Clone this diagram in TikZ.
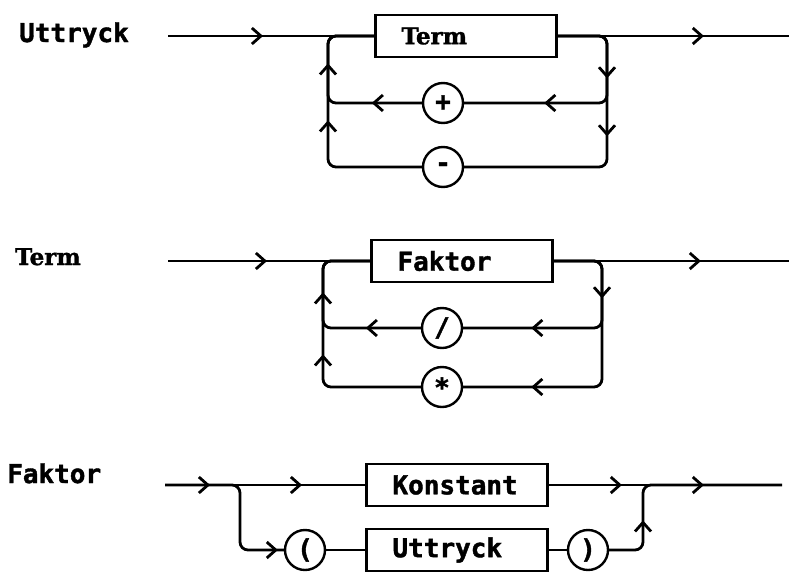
\documentclass[tikz,border=0pt]{standalone}
\usepackage{fontspec}
\setmonofont{DejaVu Sans Mono}[BoldFeatures={FakeBold=1.5}]
\newfontfamily\slabfont{DejaVu Serif}[BoldFeatures={FakeBold=1.5}]
\usetikzlibrary{arrows.meta, decorations.markings}

\begin{document}
\begin{tikzpicture}[x=1pt, y=-1pt,
    flow/.style={line width=2.8pt, line join=round},
    elbow/.style={flow, rounded corners=8pt},
    box/.style={rectangle, draw, line width=2.8pt, fill=white, minimum width=181pt, minimum height=42pt, inner xsep=26pt, text width=129pt, align=left, font=\ttfamily\bfseries\fontsize{26}{30}\selectfont},
    tok/.style={circle, draw, line width=2.4pt, fill=white, minimum size=40pt, inner sep=0pt, font=\ttfamily\bfseries\fontsize{26}{30}\selectfont},
    lbl/.style={anchor=base west, inner sep=0pt, font=\ttfamily\bfseries\fontsize{26}{30}\selectfont},
    chev/.style={postaction={decorate, decoration={markings, mark=at position #1 with {\arrow{Straight Barb[length=9pt, width=16pt]}}}}},
    chevs/.style 2 args={postaction={decorate, decoration={markings, mark=at position #1 with {\arrow{Straight Barb[length=9pt, width=16pt]}}, mark=at position #2 with {\arrow{Straight Barb[length=9pt, width=16pt]}}}}}
]
\useasboundingbox (0,0) rectangle (789,573);

% Uttryck
\node[lbl] (uttryckname) at (19,42) {Uttryck};
\coordinate (in1) at (168,36);
\coordinate (out1) at (789,36);
\coordinate (rc1) at (607,36);
\coordinate (lc1) at (328,36);
\node[box, font=\slabfont\bfseries\fontsize{23}{28}\selectfont] (term1) at (466,36) {Term};
\node[tok] (plus) at (443,103) {+};
\node[tok] (minus) at (443,167) {-};

\draw[flow, chev=95pt] (in1) -- (term1.west);
\draw[flow, chev=146pt] (term1.east) -- (out1);
\draw[elbow, chevs={88pt}{146pt}] (term1.east) -| (rc1 |- minus) -- (minus);
\draw[elbow, chev=172pt] (term1.east) -| (rc1 |- plus) -- (plus);
\draw[elbow, chev=50pt] (plus) -| (lc1) -- (term1.west);
\draw[elbow, chevs={137pt}{194pt}] (minus) -| (lc1) -- (term1.west);

% Term
\node[lbl, font=\slabfont\bfseries\fontsize{23}{28}\selectfont] (termname) at (15,265) {Term};
\coordinate (in2) at (168,261);
\coordinate (out2) at (789,261);
\coordinate (rc2) at (602,261);
\coordinate (lc2) at (323,261);
\node[box] (faktor2) at (462,261) {Faktor};
\node[tok] (slash) at (442,328) {/};
\node[tok] (times) at (442,387) {*};

\draw[flow, chev=99pt] (in2) -- (faktor2.west);
\draw[flow, chev=147pt] (faktor2.east) -- (out2);
\draw[elbow, chevs={82pt}{238pt}] (faktor2.east) -| (rc2 |- times) -- (times);
\draw[elbow, chev=179pt] (faktor2.east) -| (rc2 |- slash) -- (slash);
\draw[elbow, chev=55pt] (slash) -| (lc2) -- (faktor2.west);
\draw[elbow, chevs={127pt}{189pt}] (times) -| (lc2) -- (faktor2.west);

% Faktor
\node[lbl] (faktorname) at (7,483) {Faktor};
\coordinate (in3) at (165,485);
\coordinate (out3) at (782,485);
\coordinate (bc3) at (240,485);
\coordinate (mc3) at (643,485);
\node[box] (konst) at (457,485) {Konstant};
\node[box] (uttryck3) at (457,550) {Uttryck};
\node[tok] (lparen) at (305,550) {(};
\node[tok] (rparen) at (588,550) {)};

\draw[flow, chevs={45pt}{137pt}] (in3) -- (konst.west);
\draw[flow, chevs={73pt}{155pt}] (konst.east) -- (out3);
\draw[elbow, chev=171pt] (in3) -| (bc3 |- lparen) -- (lparen);
\draw[flow] (lparen) -- (uttryck3);
\draw[flow] (uttryck3) -- (rparen);
\draw[elbow, chev=60pt] (rparen) -| (mc3) -- (out3);

\end{tikzpicture}
\end{document}
